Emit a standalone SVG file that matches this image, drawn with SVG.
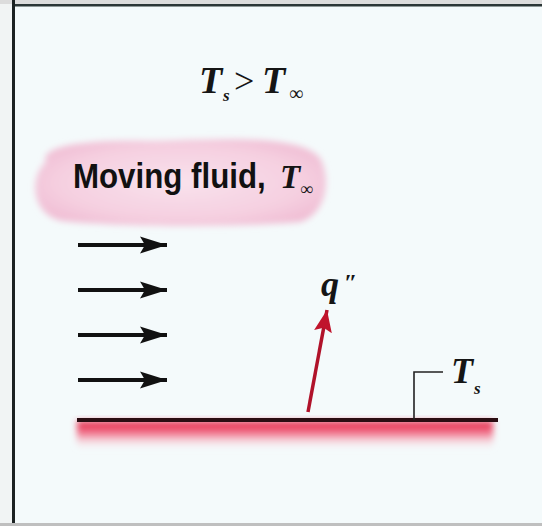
<svg xmlns="http://www.w3.org/2000/svg" width="542" height="526" viewBox="0 0 542 526">
  <style>
    .serif { font-family: "Liberation Serif", "DejaVu Serif", serif; font-style: italic; font-weight: bold; fill: #151515; }
    .sans { font-family: "Liberation Sans", "DejaVu Sans", sans-serif; font-weight: bold; font-style: normal; fill: #111; }
    .flow { stroke: #111; stroke-width: 4; fill: none; }
    .leader { stroke: #222; stroke-width: 1.6; fill: none; }
  </style>
  <defs>
    <marker id="blackHead" markerUnits="userSpaceOnUse" markerWidth="30" markerHeight="20" refX="27" refY="10" orient="auto">
      <path d="M0,1.5 L27,10 L0,18.5 L5,10 Z" fill="#111"/>
    </marker>
    <marker id="redHead" markerUnits="userSpaceOnUse" markerWidth="24" markerHeight="22" refX="22" refY="11" orient="auto">
      <path d="M0,2 L22,11 L0,20 L4,11 Z" fill="#c0142c"/>
    </marker>
    <linearGradient id="plateGlow" x1="0" y1="0" x2="0" y2="1">
      <stop offset="0" stop-color="#e5284a"/>
      <stop offset="0.4" stop-color="#f06a84"/>
      <stop offset="1" stop-color="#fbe6ec" stop-opacity="0"/>
    </linearGradient>
    <radialGradient id="cloudFill" cx="0.5" cy="0.5" r="0.6">
      <stop offset="0" stop-color="#f9e2ec"/>
      <stop offset="0.7" stop-color="#f5cfe0"/>
      <stop offset="1" stop-color="#f0bcd3"/>
    </radialGradient>
    <filter id="soft" x="-10%" y="-20%" width="120%" height="140%">
      <feGaussianBlur stdDeviation="3"/>
    </filter>
  </defs>

  <!-- frame and background -->
  <rect x="0" y="0" width="542" height="526" fill="#f4fafb"/>
  <rect x="0" y="0" width="12" height="526" fill="#f1f4f4"/>
  <rect x="0" y="0" width="542" height="4" fill="#dcdcdc"/>
  <rect x="12" y="4" width="530" height="2.5" fill="#2b3636"/>
  <rect x="12" y="0" width="3" height="526" fill="#1b2222"/>
  <rect x="0" y="523" width="542" height="3" fill="#bfbfbf"/>

  <g id="title">
    <text class="serif" x="199" y="93" font-size="38">T<tspan x="223" y="101" font-size="17">s</tspan><tspan x="234" y="93" font-size="36" font-style="normal" font-weight="normal">&gt;</tspan><tspan x="262" y="93">T</tspan><tspan x="289" y="100" font-size="20">∞</tspan></text>
  </g>

  <g id="cloud">
    <path d="M46,162 C38,145 92,139 152,141 C232,138 302,136 320,158 C332,180 326,214 300,222 C232,228 122,227 62,221 C32,215 28,178 46,162 Z" fill="url(#cloudFill)" filter="url(#soft)"/>
    <text class="sans" x="81.6" y="188" font-size="35" transform="scale(0.894,1)">Moving fluid,</text>
    <text class="serif" x="280" y="188" font-size="33">T<tspan x="300" y="195" font-size="18">∞</tspan></text>
  </g>

  <g id="plate">
    <rect x="77" y="421" width="416" height="28" fill="url(#plateGlow)" filter="url(#soft)"/>
    <line x1="77" y1="420" x2="498" y2="420" stroke="#2a0d12" stroke-width="4"/>
  </g>

  <g id="ts-label">
    <text class="serif" x="451" y="383" font-size="36">T<tspan x="474" y="394" font-size="17">s</tspan></text>
  </g>

  <g id="q-label">
    <text class="serif" x="321" y="296" font-size="36">q<tspan x="344" y="290" font-size="24">″</tspan></text>
  </g>

  <g id="connectors">
    <line class="flow" x1="78" y1="245" x2="167" y2="245" marker-end="url(#blackHead)"/>
    <line class="flow" x1="78" y1="290" x2="167" y2="290" marker-end="url(#blackHead)"/>
    <line class="flow" x1="78" y1="335" x2="167" y2="335" marker-end="url(#blackHead)"/>
    <line class="flow" x1="78" y1="380" x2="167" y2="380" marker-end="url(#blackHead)"/>
    <line x1="308" y1="412" x2="327" y2="310" stroke="#b0122a" stroke-width="3.5" marker-end="url(#redHead)"/>
    <polyline class="leader" points="414,420 414,372 443,372"/>
  </g>
</svg>
